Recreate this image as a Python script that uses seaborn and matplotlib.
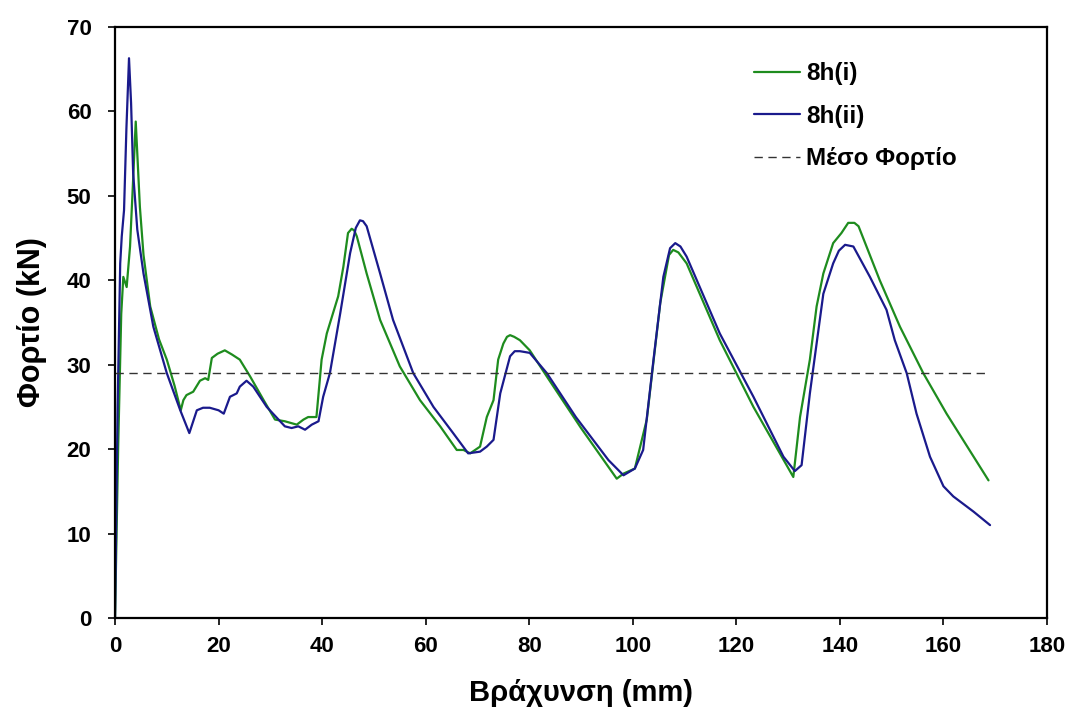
import matplotlib
matplotlib.use('Agg')
import matplotlib.pyplot as plt
import seaborn as sns
import pandas as pd

# ---- data (displacement mm, load kN) ----
x_8h_i = [0.0, 0.6, 1.2, 1.6, 2.25, 2.9, 3.5, 4.0, 4.8, 5.5, 6.8, 8.5, 10.0, 11.5, 12.7,
          13.2, 13.8, 15.1, 16.4, 17.4, 18.0, 18.7, 19.8, 21.2, 22.6, 24.1, 26.1, 28.7,
          30.9, 32.8, 35.1, 36.4, 37.3, 38.9, 39.9, 40.9, 43.1, 44.1, 45.0, 45.7, 46.2,
          46.7, 48.6, 51.2, 55.0, 58.9, 62.8, 66.0, 67.3, 68.6, 70.5, 71.8, 73.1, 74.0,
          75.0, 75.7, 76.3, 77.1, 78.2, 80.1, 83.4, 90.0, 96.9, 98.2, 100.4, 102.7, 105.3,
          107.0, 107.8, 108.8, 110.4, 116.8, 123.3, 131.0, 132.3, 134.2, 135.5, 136.8,
          138.7, 140.3, 141.6, 142.8, 143.6, 147.7, 151.6, 156.1, 160.6, 168.7]
y_8h_i = [0.0, 20.0, 36.0, 40.4, 39.2, 44.0, 52.0, 58.8, 48.7, 43.0, 36.9, 33.0, 30.6, 27.5, 24.6,
          25.8, 26.4, 26.8, 28.1, 28.4, 28.2, 30.8, 31.3, 31.7, 31.2, 30.6, 28.6, 25.8,
          23.5, 23.3, 22.9, 23.5, 23.8, 23.8, 30.6, 33.7, 38.1, 41.6, 45.6, 46.1, 45.9,
          45.2, 40.8, 35.3, 29.8, 25.8, 22.7, 19.9, 19.9, 19.5, 20.3, 23.8, 25.8, 30.6,
          32.5, 33.3, 33.5, 33.3, 32.9, 31.7, 28.6, 22.5, 16.5, 17.1, 17.7, 23.5, 37.3,
          43.0, 43.6, 43.3, 42.0, 32.9, 25.0, 16.7, 23.8, 30.6, 36.9, 40.8,
          44.4, 45.6, 46.8, 46.8, 46.4, 40.0, 34.5, 29.0, 24.2, 16.3]

x_8h_ii = [0.0, 0.5, 1.0, 1.3, 1.74, 2.2, 2.7, 3.1, 3.5, 4.3, 5.5, 7.4, 10.0, 12.6, 14.35,
           15.8, 17.0, 18.3, 20.0, 21.0, 22.2, 23.5, 24.1, 25.4, 26.7, 29.3, 32.8, 34.1,
           35.4, 36.7, 38.0, 39.3, 40.2, 41.5, 43.5, 45.4, 46.5, 47.3, 47.9, 48.6, 51.2,
           53.7, 57.6, 61.5, 65.3, 68.2, 70.5, 71.8, 73.1, 74.4, 76.3, 77.2, 78.2, 80.1,
           83.4, 89.0, 95.3, 98.2, 100.4, 102.0, 104.0, 105.9, 107.2, 108.2, 109.2, 110.4,
           116.8, 123.3, 129.1, 131.3, 132.6, 134.2, 135.5, 136.8, 138.7, 139.8, 141.0,
           142.6, 145.8, 149.0, 150.6, 152.9, 154.8, 157.4, 160.0, 161.9, 165.8, 169.0]
y_8h_ii = [0.0, 25.0, 42.0, 45.2, 48.3, 58.0, 66.3, 61.0, 52.7, 46.0, 40.8, 34.5, 29.0, 24.6, 21.9,
           24.6, 24.9, 24.9, 24.6, 24.2, 26.2, 26.6, 27.4, 28.1, 27.4, 25.0, 22.7, 22.5,
           22.7, 22.3, 22.9, 23.3, 26.2, 29.0, 36.1, 43.2, 46.2, 47.1, 47.0, 46.4, 40.8,
           35.3, 29.0, 25.0, 21.9, 19.5, 19.7, 20.3, 21.1, 26.6, 31.0, 31.6, 31.6, 31.4,
           29.0, 23.8, 18.7, 16.9, 17.7, 19.9, 30.6, 40.4, 43.8, 44.4, 44.0, 42.8,
           33.7, 26.2, 19.1, 17.4, 18.1, 26.6, 32.5, 38.4, 42.0, 43.5, 44.2,
           44.0, 40.4, 36.5, 32.9, 29.0, 24.2, 19.1, 15.6, 14.4, 12.6, 11.0]

mean_load = 29.0
mean_x = [0.0, 169.0]

labels = ['8h(i)', '8h(ii)', 'Μέσο Φορτίο']
x_ticks = list(range(0, 181, 20))
y_ticks = list(range(0, 71, 10))

df_i = pd.DataFrame({'x': x_8h_i, 'y': y_8h_i})
df_ii = pd.DataFrame({'x': x_8h_ii, 'y': y_8h_ii})
df_mean = pd.DataFrame({'x': mean_x, 'y': [mean_load] * len(mean_x)})

sns.set_style('white')
plt.rcParams['font.family'] = ['Liberation Sans', 'DejaVu Sans']
plt.rcParams['font.weight'] = 'bold'
plt.rcParams['text.color'] = 'black'
plt.rcParams['axes.labelcolor'] = 'black'
plt.rcParams['xtick.color'] = 'black'
plt.rcParams['ytick.color'] = 'black'

fig = plt.figure(figsize=(10.71, 7.16), dpi=100)
ax = fig.add_axes([0.1074, 0.1369, 0.8702, 0.8254])

sns.lineplot(data=df_i, x='x', y='y', ax=ax, color='#1e8c1e', linewidth=1.6,
             sort=False, label=labels[0])
sns.lineplot(data=df_ii, x='x', y='y', ax=ax, color='#1a1a8c', linewidth=1.6,
             sort=False, label=labels[1])
sns.lineplot(data=df_mean, x='x', y='y', ax=ax, color='#333333', linewidth=1.0,
             linestyle=(0, (6, 4)), label=labels[2])

ax.set_xlim(0, 180)
ax.set_ylim(0, 70)
ax.set_xticks(x_ticks)
ax.set_yticks(y_ticks)
ax.tick_params(axis='x', direction='out', length=5, width=1.2, labelsize=16, pad=8,
               bottom=True)
ax.tick_params(axis='y', direction='out', length=5, width=1.2, labelsize=16, pad=12,
               left=True)
for lbl in ax.get_xticklabels() + ax.get_yticklabels():
    lbl.set_fontweight('bold')
for s in ax.spines.values():
    s.set_color('black')
    s.set_linewidth(1.6)

ax.set_xlabel('Βράχυνση (mm)', fontsize=21, fontweight='bold', labelpad=16)
ax.set_ylabel('Φορτίο (kN)', fontsize=22, fontweight='bold', labelpad=14)

leg = ax.legend(loc='upper left', bbox_to_anchor=(0.662, 0.977), frameon=False,
                fontsize=17.5, handlelength=1.9, handletextpad=0.25, labelspacing=0.8)
for t in leg.get_texts():
    t.set_fontweight('bold')

fig.savefig('out.png', dpi=100)
